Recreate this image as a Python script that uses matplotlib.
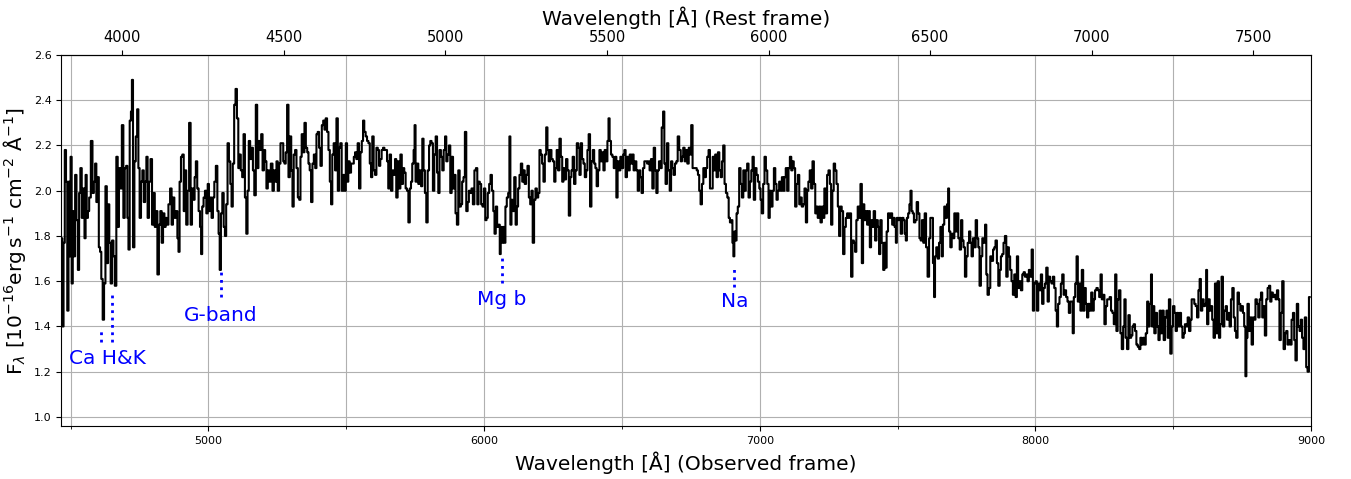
import numpy as np
import matplotlib
matplotlib.use('Agg')
import matplotlib.pyplot as plt

# redshift used for the rest-frame axis
z = 0.172

wave_1 = [4468, 4472, 4477, 4481, 4486, 4490, 4495, 4498, 4502, 4506,
          4510, 4514, 4519, 4524, 4529, 4533, 4538, 4543, 4548, 4553,
          4556, 4561, 4565, 4570, 4577, 4582, 4587, 4591, 4596, 4600,
          4605, 4609, 4614, 4619, 4624, 4629, 4634, 4638, 4643, 4648,
          4653, 4658, 4663, 4669, 4673, 4678, 4683, 4689, 4694, 4699,
          4704, 4708, 4712, 4717, 4721, 4724, 4729, 4734, 4739, 4744,
          4748, 4753, 4758, 4763, 4768, 4773, 4777, 4782, 4787, 4793,
          4798, 4803, 4808, 4812, 4818, 4823, 4828, 4833, 4838, 4843,
          4847, 4852, 4858, 4864, 4869, 4874, 4879, 4885, 4890, 4893,
          4898, 4903, 4908, 4913, 4917, 4922, 4927, 4933, 4938, 4943,
          4948, 4952, 4957, 4962, 4967, 4972, 4975, 4980, 4985, 4990,
          4995, 5000, 5004, 5009, 5014, 5019, 5024, 5030, 5035, 5039,
          5043, 5048, 5053, 5058, 5062, 5067, 5072, 5077, 5082, 5086,
          5091, 5096, 5101, 5106, 5111, 5115, 5120, 5125, 5130, 5135,
          5140, 5144, 5149, 5154, 5159, 5164, 5169, 5175, 5179, 5184,
          5189, 5194, 5199, 5204, 5208, 5213, 5218, 5223]
flux_1 = [1.79, 1.40, 1.77, 2.18, 2.04, 1.47, 2.04, 1.71, 2.15, 1.59,
          1.91, 1.71, 2.07, 1.87, 1.65, 1.99, 2.10, 1.88, 2.01, 1.79,
          2.07, 1.88, 1.91, 1.97, 2.22, 1.99, 2.04, 2.12, 1.95, 2.06,
          1.75, 1.73, 1.61, 1.43, 1.59, 2.02, 1.68, 1.94, 1.77, 1.59,
          1.78, 1.71, 1.58, 2.15, 1.84, 2.10, 2.01, 2.29, 1.88, 2.10,
          2.11, 1.88, 1.74, 2.31, 2.35, 2.49, 1.75, 2.13, 2.24, 2.36,
          2.10, 1.88, 2.04, 2.09, 1.95, 2.04, 2.15, 1.88, 2.04, 2.14,
          1.85, 1.99, 1.84, 1.91, 1.63, 1.85, 1.91, 1.77, 1.90, 1.84,
          1.88, 1.85, 1.94, 2.01, 1.85, 1.97, 1.88, 1.91, 1.79, 1.73,
          2.04, 2.15, 2.16, 1.91, 2.09, 1.85, 2.00, 2.30, 1.85, 2.01,
          1.96, 2.06, 2.13, 2.01, 1.91, 1.84, 1.72, 1.93, 1.97, 2.00,
          1.90, 2.03, 1.91, 1.97, 1.88, 1.97, 2.04, 2.11, 1.91, 1.81,
          1.65, 1.90, 1.99, 1.84, 1.80, 1.94, 2.21, 2.13, 2.03, 1.93,
          2.12, 2.38, 2.45, 2.32, 2.10, 2.16, 2.09, 2.06, 2.25, 1.97,
          1.81, 2.00, 2.22, 2.14, 2.19, 2.09, 1.98, 2.38, 2.10, 2.22,
          2.18, 2.25, 2.09, 2.18, 2.13, 2.01, 2.09, 2.04]

wave_2 = [5230, 5235, 5240, 5245, 5249, 5254, 5259, 5264, 5269, 5274,
          5278, 5283, 5288, 5293, 5298, 5303, 5307, 5312, 5317, 5322,
          5327, 5332, 5336, 5341, 5346, 5351, 5356, 5361, 5365, 5370,
          5375, 5380, 5385, 5390, 5394, 5399, 5404, 5409, 5414, 5419,
          5423, 5428, 5433, 5438, 5443, 5447, 5452, 5457, 5462, 5467,
          5472, 5476, 5481, 5486, 5491, 5496, 5501, 5505, 5510, 5515,
          5520, 5525, 5530, 5534, 5539, 5544, 5549, 5554, 5559, 5563,
          5568, 5573, 5578, 5583, 5588, 5592, 5597, 5602, 5607, 5612,
          5617, 5621, 5626, 5631, 5636, 5641, 5646, 5650, 5655, 5660,
          5665, 5670, 5675, 5679, 5684, 5689, 5694, 5699, 5704, 5708,
          5713, 5718, 5723, 5728, 5733, 5737, 5742, 5747, 5749, 5754,
          5759, 5764, 5769, 5774, 5778, 5783, 5788, 5793, 5798, 5803,
          5807, 5812, 5817, 5822, 5827, 5832, 5836, 5841, 5846, 5851,
          5856, 5861, 5865, 5870, 5875, 5880, 5885, 5890, 5894, 5899,
          5904, 5909, 5914, 5918, 5923, 5928, 5933, 5938, 5943, 5947,
          5952, 5957, 5962]
flux_2 = [2.12, 2.00, 2.09, 2.04, 2.13, 2.00, 2.12, 2.21, 2.21, 2.13,
          2.12, 2.17, 2.38, 2.06, 2.24, 2.09, 1.93, 2.16, 2.18, 2.10,
          1.97, 1.96, 2.15, 2.25, 2.17, 2.30, 2.19, 2.17, 2.12, 2.09,
          1.95, 2.12, 2.16, 2.10, 2.25, 2.26, 2.19, 2.11, 2.29, 2.31,
          2.27, 2.32, 2.26, 2.18, 2.04, 1.94, 2.16, 2.21, 2.09, 2.32,
          2.00, 2.19, 2.21, 2.00, 2.07, 2.00, 2.21, 2.04, 2.13, 2.08,
          2.12, 2.12, 2.15, 2.17, 2.14, 2.21, 2.01, 2.17, 2.22, 2.31,
          2.26, 2.24, 2.22, 2.21, 2.12, 2.06, 2.24, 2.09, 2.07, 2.19,
          2.18, 2.11, 2.14, 2.18, 2.19, 2.18, 2.18, 2.13, 2.01, 2.16,
          2.00, 2.09, 2.07, 2.14, 1.97, 2.13, 2.01, 2.16, 2.03, 2.10,
          2.08, 2.01, 2.00, 1.86, 2.01, 2.04, 2.12, 2.18, 2.29, 2.04,
          2.12, 2.03, 2.09, 2.02, 2.23, 2.09, 1.99, 1.86, 2.09, 2.20,
          2.22, 2.21, 2.00, 2.16, 2.24, 2.08, 1.99, 2.18, 2.15, 2.09,
          2.18, 2.24, 2.13, 2.16, 2.20, 1.99, 2.15, 2.01, 2.07, 1.90,
          1.85, 2.09, 1.93, 1.94, 2.04, 2.06, 2.26, 1.91, 1.95, 2.00,
          1.99, 2.01, 1.94]

wave_3 = [5968, 5973, 5978, 5982, 5987, 5992, 5997, 6002, 6007, 6011,
          6016, 6021, 6026, 6031, 6036, 6040, 6045, 6050, 6055, 6059,
          6062, 6066, 6071, 6075, 6080, 6085, 6090, 6094, 6097, 6102,
          6107, 6112, 6117, 6121, 6126, 6131, 6136, 6141, 6145, 6150,
          6155, 6160, 6165, 6170, 6174, 6179, 6184, 6189, 6194, 6199,
          6203, 6208, 6213, 6218, 6223, 6228, 6232, 6237, 6242, 6247,
          6252, 6257, 6261, 6266, 6271, 6276, 6281, 6286, 6290, 6295,
          6300, 6305, 6310, 6315, 6319, 6324, 6329, 6334, 6339, 6344,
          6348, 6353, 6358, 6363, 6368, 6373, 6377, 6382, 6387, 6392,
          6397, 6402, 6406, 6411, 6416, 6421, 6426, 6431, 6435, 6440,
          6445, 6450, 6453, 6458, 6463, 6468, 6473, 6478, 6482, 6487,
          6492, 6497, 6502, 6507, 6511, 6516, 6521, 6526, 6531, 6536,
          6540, 6545, 6550, 6555, 6560, 6565, 6569, 6574, 6579, 6584,
          6589, 6594, 6598, 6603, 6608, 6613, 6618, 6623, 6627, 6632,
          6637, 6642, 6647, 6652, 6656, 6661, 6666, 6671, 6676, 6681,
          6685, 6690, 6695, 6700, 6705]
flux_3 = [2.09, 2.10, 1.94, 2.04, 2.03, 1.94, 1.93, 2.01, 1.87, 1.88,
          1.99, 2.03, 2.07, 2.00, 1.91, 1.81, 1.93, 1.84, 1.85, 1.72,
          1.84, 1.77, 1.84, 1.77, 1.93, 1.97, 1.99, 2.24, 1.85, 1.96,
          1.91, 2.06, 1.85, 1.93, 2.01, 2.07, 2.12, 2.04, 2.09, 2.03,
          2.07, 2.11, 1.97, 1.94, 2.00, 1.77, 1.96, 2.01, 1.97, 1.99,
          2.18, 2.16, 2.12, 2.04, 2.16, 2.28, 2.18, 2.13, 2.18, 2.14,
          2.13, 2.04, 2.10, 2.18, 2.09, 2.23, 2.15, 2.04, 2.10, 2.05,
          2.14, 2.09, 1.89, 2.06, 2.09, 2.15, 2.03, 2.09, 2.21, 2.19,
          2.07, 2.21, 2.14, 2.12, 2.06, 2.09, 2.18, 2.25, 1.93, 2.13,
          2.18, 2.12, 2.10, 2.02, 2.09, 2.18, 2.13, 2.17, 2.09, 2.18,
          2.13, 2.22, 2.32, 2.22, 2.16, 2.15, 2.10, 2.15, 1.97, 2.13,
          2.09, 2.15, 2.10, 2.16, 2.18, 2.06, 2.15, 2.09, 2.16, 2.12,
          2.16, 2.09, 2.13, 2.09, 2.00, 2.09, 2.06, 1.99, 2.10, 2.13,
          2.13, 2.12, 2.13, 2.09, 2.14, 2.01, 2.19, 2.09, 1.99, 2.09,
          2.13, 2.10, 2.28, 2.35, 2.12, 2.03, 2.21, 2.09, 2.00, 2.13,
          2.10, 2.07, 2.12, 2.13, 2.24]

wave_4 = [6711, 6716, 6720, 6725, 6730, 6735, 6740, 6745, 6749, 6754,
          6759, 6764, 6769, 6774, 6778, 6783, 6788, 6793, 6798, 6803,
          6807, 6812, 6817, 6822, 6827, 6832, 6836, 6841, 6846, 6851,
          6856, 6861, 6865, 6870, 6875, 6880, 6885, 6890, 6894, 6899,
          6903, 6906, 6910, 6914, 6918, 6923, 6928, 6933, 6938, 6943,
          6947, 6952, 6957, 6962, 6967, 6972, 6976, 6981, 6986, 6991,
          6996, 7001, 7005, 7010, 7015, 7020, 7025, 7030, 7034, 7039,
          7044, 7049, 7054, 7059, 7063, 7068, 7073, 7078, 7083, 7088,
          7092, 7097, 7102, 7107, 7112, 7117, 7121, 7126, 7131, 7136,
          7141, 7146, 7150, 7155, 7160, 7165, 7170, 7174, 7179, 7184,
          7189, 7194, 7199, 7204, 7208, 7213, 7218, 7223, 7228, 7232,
          7237, 7242, 7247, 7252, 7257, 7261, 7266, 7271, 7276, 7281,
          7286, 7290, 7295, 7300, 7305, 7310, 7315, 7319, 7324, 7329,
          7334, 7339, 7344, 7348, 7353, 7358, 7363, 7368, 7373, 7377,
          7382, 7387, 7392, 7397, 7402, 7406, 7411, 7416, 7421, 7426,
          7431, 7435, 7440, 7445, 7451]
flux_4 = [2.18, 2.13, 2.15, 2.19, 2.13, 2.18, 2.12, 2.19, 2.16, 2.29,
          2.10, 2.10, 2.10, 2.09, 2.07, 2.00, 1.94, 2.03, 2.10, 2.06,
          2.10, 2.15, 2.18, 2.01, 2.01, 2.15, 2.09, 2.16, 2.06, 2.17,
          2.09, 2.06, 2.13, 2.20, 2.03, 1.99, 1.97, 1.88, 1.86, 1.87,
          1.77, 1.71, 1.82, 1.78, 1.90, 1.93, 2.10, 2.03, 1.97, 2.09,
          2.00, 2.09, 2.12, 1.97, 2.04, 2.09, 2.15, 1.96, 2.10, 2.07,
          2.04, 2.01, 1.96, 1.90, 2.03, 2.15, 2.09, 2.03, 1.88, 2.00,
          1.93, 2.00, 2.10, 2.03, 1.96, 2.00, 2.04, 2.00, 2.06, 2.00,
          2.06, 2.10, 2.00, 2.10, 2.15, 2.09, 2.13, 2.10, 1.93, 2.03,
          2.07, 1.94, 1.97, 1.93, 1.94, 2.01, 1.86, 2.00, 2.04, 2.09,
          2.01, 2.13, 2.03, 1.90, 1.93, 1.88, 1.93, 1.86, 1.93, 1.88,
          2.01, 1.90, 2.07, 2.09, 2.03, 1.85, 2.00, 2.12, 2.09, 2.03,
          1.93, 1.80, 1.93, 1.91, 1.72, 1.84, 1.88, 1.90, 1.88, 1.90,
          1.62, 1.78, 1.77, 1.73, 1.87, 1.93, 1.88, 2.03, 1.68, 1.94,
          1.87, 1.91, 1.85, 1.91, 1.75, 1.87, 1.84, 1.91, 1.78, 1.87,
          1.84, 1.72, 1.87, 1.77, 1.65]

wave_5 = [7454, 7458, 7463, 7468, 7473, 7478, 7483, 7487, 7492, 7496,
          7499, 7504, 7509, 7514, 7519, 7524, 7528, 7532, 7536, 7541,
          7545, 7549, 7553, 7557, 7562, 7567, 7572, 7577, 7582, 7586,
          7591, 7596, 7601, 7606, 7612, 7617, 7621, 7626, 7631, 7634,
          7638, 7643, 7648, 7653, 7658, 7662, 7667, 7672, 7677, 7682,
          7685, 7689, 7694, 7699, 7704, 7708, 7713, 7718, 7723, 7728,
          7733, 7737, 7742, 7747, 7752, 7757, 7762, 7766, 7771, 7776,
          7781, 7786, 7791, 7795, 7800, 7805, 7810, 7815, 7820, 7824,
          7829, 7834, 7839, 7844, 7849, 7853, 7858, 7863, 7868, 7873,
          7877, 7882, 7887, 7892, 7897, 7902, 7906, 7911, 7916, 7921,
          7926, 7931, 7935, 7940, 7945, 7950, 7955, 7960, 7964, 7969,
          7974, 7979, 7984, 7989, 7993, 7998, 8003, 8008, 8013, 8018,
          8022, 8027, 8032, 8037, 8042, 8047, 8051, 8056, 8061, 8066,
          8071, 8076, 8080, 8085, 8090, 8095, 8100, 8105, 8109, 8114,
          8119, 8124, 8129, 8134, 8137, 8142, 8147, 8152, 8156, 8161,
          8166, 8171, 8176, 8181, 8185, 8190, 8194]
flux_5 = [1.77, 1.66, 1.82, 1.90, 1.88, 1.90, 1.85, 1.88, 1.84, 1.77,
          1.88, 1.87, 1.88, 1.81, 1.88, 1.87, 1.81, 1.78, 1.88, 1.90,
          1.94, 2.00, 1.91, 1.90, 1.86, 1.87, 1.95, 1.90, 1.79, 1.78,
          1.87, 1.77, 1.90, 1.75, 1.62, 1.79, 1.88, 1.88, 1.68, 1.53,
          1.71, 1.75, 1.70, 1.77, 1.84, 1.71, 1.85, 1.93, 1.88, 1.94,
          2.01, 1.82, 1.75, 1.81, 1.79, 1.90, 1.82, 1.90, 1.79, 1.74,
          1.87, 1.78, 1.75, 1.62, 1.71, 1.77, 1.82, 1.77, 1.71, 1.79,
          1.75, 1.87, 1.79, 1.75, 1.58, 1.71, 1.79, 1.77, 1.85, 1.63,
          1.54, 1.57, 1.71, 1.69, 1.74, 1.75, 1.78, 1.68, 1.58, 1.65,
          1.71, 1.72, 1.77, 1.80, 1.62, 1.75, 1.71, 1.65, 1.60, 1.54,
          1.63, 1.53, 1.71, 1.57, 1.60, 1.56, 1.63, 1.64, 1.62, 1.63,
          1.60, 1.65, 1.62, 1.74, 1.47, 1.59, 1.60, 1.47, 1.59, 1.56,
          1.63, 1.50, 1.57, 1.59, 1.66, 1.51, 1.62, 1.60, 1.59, 1.62,
          1.57, 1.47, 1.40, 1.50, 1.53, 1.59, 1.63, 1.54, 1.56, 1.53,
          1.51, 1.46, 1.51, 1.51, 1.37, 1.53, 1.59, 1.71, 1.51, 1.59,
          1.47, 1.65, 1.47, 1.57, 1.50, 1.44, 1.50]

wave_6 = [8200, 8205, 8210, 8214, 8219, 8224, 8229, 8234, 8239, 8243,
          8248, 8253, 8258, 8263, 8267, 8272, 8277, 8282, 8287, 8292,
          8296, 8301, 8306, 8311, 8316, 8321, 8325, 8330, 8335, 8340,
          8345, 8350, 8354, 8359, 8364, 8369, 8374, 8379, 8383, 8388,
          8393, 8398, 8403, 8408, 8412, 8417, 8422, 8424, 8429, 8434,
          8439, 8444, 8449, 8453, 8458, 8463, 8468, 8473, 8478, 8482,
          8487, 8492, 8497, 8502, 8507, 8511, 8516, 8521, 8526, 8531,
          8536, 8540, 8545, 8550, 8555, 8560, 8565, 8569, 8574, 8579,
          8584, 8589, 8594, 8598, 8603, 8608, 8613, 8618, 8621, 8625,
          8630, 8635, 8639, 8644, 8649, 8654, 8659, 8664, 8668, 8673,
          8678, 8683, 8688, 8693, 8697, 8702, 8707, 8712, 8717, 8722,
          8726, 8731, 8736, 8741, 8746, 8751, 8755, 8760, 8764, 8767,
          8772, 8777, 8782, 8787, 8792, 8796, 8801, 8806, 8811, 8816,
          8821, 8825, 8830, 8835, 8840, 8845, 8850, 8854, 8859, 8864,
          8869, 8874, 8879, 8883, 8888, 8893, 8898, 8903, 8908, 8912,
          8917, 8922, 8927, 8932, 8937, 8941, 8946, 8951, 8956, 8961,
          8965, 8970, 8975, 8980, 8985, 8990, 8995]
flux_6 = [1.47, 1.55, 1.47, 1.52, 1.56, 1.57, 1.56, 1.53, 1.63, 1.52,
          1.54, 1.41, 1.49, 1.52, 1.52, 1.53, 1.47, 1.46, 1.41, 1.63,
          1.38, 1.52, 1.56, 1.37, 1.30, 1.40, 1.52, 1.35, 1.30, 1.45,
          1.35, 1.36, 1.40, 1.41, 1.38, 1.32, 1.31, 1.30, 1.35, 1.32,
          1.35, 1.32, 1.37, 1.51, 1.40, 1.50, 1.63, 1.40, 1.49, 1.37,
          1.46, 1.40, 1.34, 1.47, 1.37, 1.47, 1.34, 1.44, 1.47, 1.35,
          1.52, 1.28, 1.40, 1.49, 1.46, 1.38, 1.46, 1.40, 1.46, 1.40,
          1.35, 1.37, 1.41, 1.40, 1.44, 1.38, 1.43, 1.52, 1.52, 1.50,
          1.49, 1.44, 1.56, 1.61, 1.47, 1.52, 1.49, 1.50, 1.65, 1.41,
          1.52, 1.47, 1.49, 1.43, 1.35, 1.59, 1.37, 1.60, 1.35, 1.41,
          1.62, 1.40, 1.47, 1.49, 1.43, 1.46, 1.40, 1.52, 1.57, 1.44,
          1.38, 1.35, 1.55, 1.50, 1.47, 1.49, 1.46, 1.40, 1.18, 1.35,
          1.50, 1.38, 1.44, 1.32, 1.44, 1.43, 1.52, 1.50, 1.44, 1.52,
          1.55, 1.44, 1.49, 1.36, 1.52, 1.57, 1.58, 1.51, 1.55, 1.53,
          1.54, 1.52, 1.56, 1.52, 1.34, 1.46, 1.60, 1.30, 1.37, 1.38,
          1.32, 1.34, 1.32, 1.43, 1.46, 1.34, 1.25, 1.50, 1.40, 1.38,
          1.43, 1.35, 1.30, 1.44, 1.22, 1.20, 1.53]

# absorption features (rest wavelength, marker extent, label position)
feat_names = ['Ca H&K', 'G-band', 'Mg b', 'Na']
feat_rest = [[3934, 3969], [4304], [5175], [5893]]
feat_lo = [[1.33, 1.33], [1.53], [1.59], [1.575]]
feat_hi = [[1.39, 1.55], [1.645], [1.71], [1.67]]
label_x = [4633, 5045, 6063, 6908]
label_y = [1.26, 1.45, 1.52, 1.51]

wave = np.concatenate([wave_1, wave_2, wave_3, wave_4, wave_5, wave_6])
flux = np.concatenate([flux_1, flux_2, flux_3, flux_4, flux_5, flux_6])

fig = plt.figure(figsize=(13.51, 4.79), dpi=100)
ax = fig.add_axes([0.0455, 0.1106, 0.9249, 0.7746])

ax.plot(wave, flux, color='k', lw=1.5, drawstyle='steps-mid')

for i in range(len(feat_names)):
    for j in range(len(feat_rest[i])):
        xl = feat_rest[i][j] * (1 + z)
        ax.plot([xl, xl], [feat_lo[i][j], feat_hi[i][j]], color='blue',
                ls=':', lw=2)
    ax.text(label_x[i], label_y[i], feat_names[i], color='blue',
            fontsize=14.5, ha='center', va='center')

ax.set_xlim(4467, 9000)
ax.set_ylim(0.96, 2.6)
ax.set_xticks(np.arange(5000, 9001, 1000))
ax.set_xticks(np.arange(4500, 9000, 1000), minor=True)
ax.set_yticks(np.arange(1.0, 2.61, 0.2))
ax.tick_params(labelsize=8)
ax.grid(True, which='both', color='#b0b0b0', lw=0.8)
ax.set_axisbelow(True)

ax.set_xlabel('Wavelength [Å] (Observed frame)', fontsize=14.5)
ax.set_ylabel(r'F$_\lambda$ [10$^{-16}$erg$\,$s$^{-1}$ cm$^{-2}$ Å$^{-1}$]',
              fontsize=14.5)

top = ax.secondary_xaxis('top', functions=(lambda x: x / (1 + z),
                                            lambda x: x * (1 + z)))
top.set_xticks(np.arange(4000, 7501, 500))
top.tick_params(labelsize=10.5)
top.set_xlabel('Wavelength [Å] (Rest frame)', fontsize=14.5)

fig.savefig('out.png', dpi=100)
